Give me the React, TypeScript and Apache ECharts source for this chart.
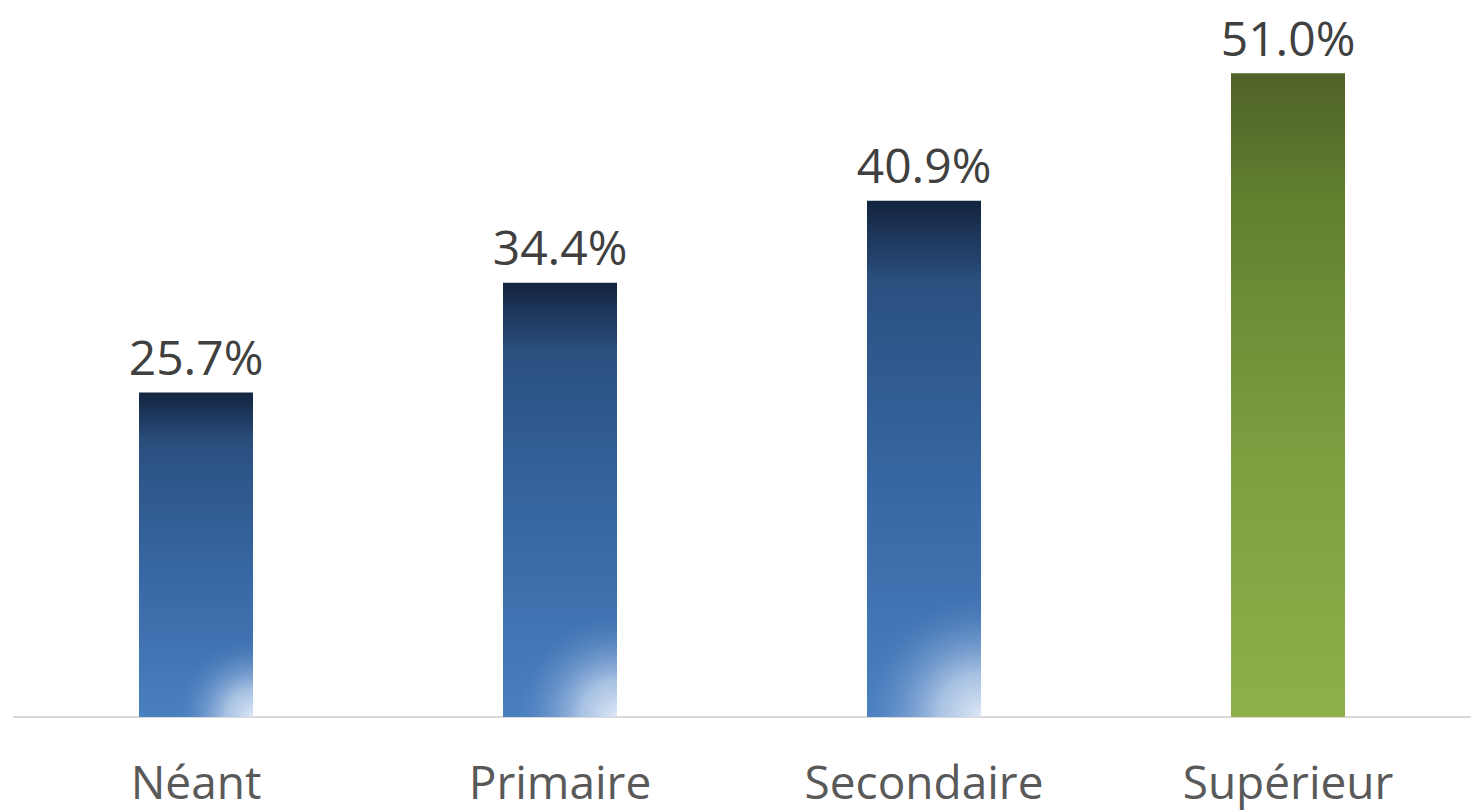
import React, { useEffect, useRef } from "react";
import * as echarts from "echarts";

const categories = ["Néant", "Primaire", "Secondaire", "Supérieur"];
const values = [25.7, 34.4, 40.9, 51.0];
const hasGlow = [1, 1, 1, 0];

const BAR_W = 114;
const GLOW_RATIO = 0.24;

const blueGrad = () =>
  new echarts.graphic.LinearGradient(0, 0, 0, 1, [
    { offset: 0, color: "#13243f" },
    { offset: 0.16, color: "#2b5080" },
    { offset: 0.55, color: "#3767a3" },
    { offset: 1, color: "#4a7fc0" },
  ]);
const greenGrad = () =>
  new echarts.graphic.LinearGradient(0, 0, 0, 1, [
    { offset: 0, color: "#4f6228" },
    { offset: 0.2, color: "#62802f" },
    { offset: 0.6, color: "#7e9f40" },
    { offset: 1, color: "#8eb04a" },
  ]);

export default function App() {
  const ref = useRef<HTMLDivElement>(null);
  useEffect(() => {
    const chart = echarts.init(ref.current!, null, { renderer: "svg" });
    const font = "'Open Sans', 'Noto Sans', sans-serif";
    chart.setOption({
      animation: false,
      grid: { left: 14, right: 11, top: 10, bottom: 94, containLabel: false },
      xAxis: {
        type: "category",
        data: categories,
        axisLine: { show: true, lineStyle: { color: "#d9d9d9", width: 2 } },
        axisTick: { show: false },
        axisLabel: { color: "#595959", fontSize: 46, fontFamily: font, margin: 41 },
      },
      yAxis: {
        type: "value",
        min: 0,
        max: 56,
        show: false,
        splitLine: { show: false },
      },
      series: [
        {
          type: "bar",
          barWidth: BAR_W,
          z: 2,
          data: values.map((v, i) => ({
            value: v,
            itemStyle: { color: i === 3 ? greenGrad() : blueGrad() },
          })),
          label: {
            show: true,
            position: "top",
            distance: 12,
            color: "#404040",
            fontSize: 48,
            fontFamily: font,
            formatter: (p: any) => p.value.toFixed(1) + "%",
          },
        },
        {
          type: "custom",
          silent: true,
          z: 3,
          data: values.map((v, i) => [i, v, hasGlow[i]]),
          renderItem: (params: any, api: any) => {
            if (!api.value(2)) return null;
            const top = api.coord([api.value(0), api.value(1)]);
            const base = api.coord([api.value(0), 0]);
            const h = base[1] - top[1];
            const x0 = top[0] - BAR_W / 2;
            const r = h * GLOW_RATIO;
            return {
              type: "rect",
              shape: { x: x0, y: top[1], width: BAR_W, height: h },
              style: {
                fill: new echarts.graphic.RadialGradient(
                  x0 + BAR_W,
                  base[1],
                  r,
                  [
                    { offset: 0, color: "rgba(222,232,245,1)" },
                    { offset: 0.35, color: "rgba(190,210,236,0.8)" },
                    { offset: 0.7, color: "rgba(130,165,212,0.4)" },
                    { offset: 1, color: "rgba(74,127,192,0)" },
                  ],
                  true
                ),
              },
            };
          },
        },
      ],
    });
    return () => chart.dispose();
  }, []);
  return (
    <div
      ref={ref}
      style={{ position: "fixed", left: 0, top: 0, width: 1481, height: 811, background: "#fff" }}
    />
  );
}
